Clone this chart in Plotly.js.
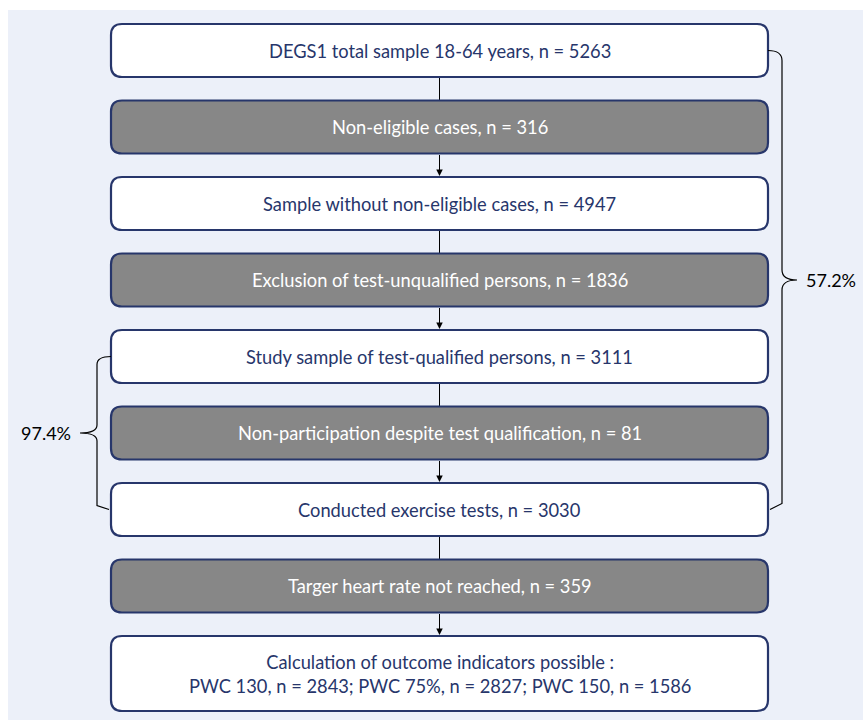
<!DOCTYPE html>
<html>
<head>
<meta charset="utf-8">
<script src="https://cdn.plot.ly/plotly-3.0.1.min.js"></script>
<style>html,body{margin:0;padding:0;background:#fff;}#chart{width:863px;height:720px;}</style>
</head>
<body>
<div id="chart"></div>
<script>
// ---- data ----
const stepTexts = [
  'DEGS1 total sample 18-64 years',
  'Non-eligible cases',
  'Sample without non-eligible cases',
  'Exclusion of test-unqualified persons',
  'Study sample of test-qualified persons',
  'Non-participation despite test qualification',
  'Conducted exercise tests',
  'Targer heart rate not reached',
  'Calculation of outcome indicators possible :'
];
const stepN = [5263, 316, 4947, 1836, 3111, 81, 3030, 359, null];
const stepKind = ['kept', 'removed', 'kept', 'removed', 'kept', 'removed', 'kept', 'removed', 'kept'];
const outcomeLabels = ['PWC 130', 'PWC 75%', 'PWC 150'];
const outcomeN = [2843, 2827, 1586];
const bracketLabels = ['57.2%', '97.4%'];
const bracketFrom = [0, 4];
const bracketTo = [6, 6];
const bracketSide = ['right', 'left'];

// ---- layout / style ----
const W = 863, H = 720;
const navy = '#27366b', grey = '#878787', bg = '#ecf0f9';
const boxX0 = 111, boxX1 = 768, midX = (boxX0 + boxX1) / 2;
const top0 = 24, pitch = 76.5, hSingle = 53, hDouble = 75, rad = 11;
const font = 'Lato, "Open Sans", sans-serif';

const tops = stepTexts.map((_, i) => top0 + i * pitch);
const heights = stepTexts.map((_, i) => (i === stepTexts.length - 1 ? hDouble : hSingle));
const mids = tops.map((t, i) => t + heights[i] / 2);

function roundRect(x0, y0, x1, y1, r) {
  return `M${x0 + r},${y0} L${x1 - r},${y0} Q${x1},${y0} ${x1},${y0 + r} L${x1},${y1 - r} Q${x1},${y1} ${x1 - r},${y1} L${x0 + r},${y1} Q${x0},${y1} ${x0},${y1 - r} L${x0},${y0 + r} Q${x0},${y0} ${x0 + r},${y0} Z`;
}

const shapes = [];
const annotations = [];

// background panel
shapes.push({type: 'rect', xref: 'x', yref: 'y', x0: 8, x1: W, y0: 10, y1: H, fillcolor: bg, line: {width: 0}, layer: 'below'});

// connectors
for (let i = 0; i < stepTexts.length - 1; i++) {
  const y0 = tops[i] + heights[i], y1 = tops[i + 1];
  if (stepKind[i + 1] === 'kept') {
    annotations.push({x: midX, y: y1 - 1, ax: midX, ay: y0, xref: 'x', yref: 'y', axref: 'x', ayref: 'y',
      text: '', showarrow: true, arrowhead: 2, arrowsize: 1.3, arrowwidth: 1, arrowcolor: '#000'});
  } else {
    shapes.push({type: 'line', xref: 'x', yref: 'y', x0: midX, x1: midX, y0: y0, y1: y1, line: {color: '#000', width: 1}});
  }
}

// boxes
stepTexts.forEach((t, i) => {
  const kept = stepKind[i] === 'kept';
  shapes.push({type: 'path', xref: 'x', yref: 'y', path: roundRect(boxX0, tops[i], boxX1, tops[i] + heights[i], rad),
    fillcolor: kept ? '#ffffff' : grey, line: {color: navy, width: 2.2}});
  let txt;
  if (stepN[i] !== null) {
    txt = `${t}, n = ${stepN[i]}`;
  } else {
    txt = t + '<br>' + outcomeLabels.map((l, k) => `${l}, n = ${outcomeN[k]}`).join('; ');
  }
  annotations.push({x: midX, y: mids[i], xref: 'x', yref: 'y', text: txt, showarrow: false,
    font: {family: font, size: 18.3, color: kept ? navy : '#ffffff'}, align: 'center', xanchor: 'center', yanchor: 'middle'});
});

// brackets
bracketLabels.forEach((lab, b) => {
  const yA = mids[bracketFrom[b]], yB = mids[bracketTo[b]];
  const ym = (yA + yB) / 2;
  if (bracketSide[b] === 'right') {
    const e = boxX1, v = 782, tip = 797;
    const p = `M${e},${yA} Q${v},${yA} ${v},${yA + 10} L${v},${ym - 10} Q${v},${ym} ${tip},${ym} Q${v},${ym} ${v},${ym + 10} L${v},${yB - 6} L${e + 2},${yB}`;
    shapes.push({type: 'path', xref: 'x', yref: 'y', path: p, line: {color: '#000', width: 1.2}});
    annotations.push({x: 804, y: ym, xref: 'x', yref: 'y', text: lab, showarrow: false, xanchor: 'left', yanchor: 'middle',
      font: {family: font, size: 18, color: '#000'}});
  } else {
    const e = boxX0, v = 97, tip = 80;
    const p = `M${e},${yA} Q${v},${yA} ${v},${yA + 8} L${v},${ym - 8} Q${v},${ym} ${tip},${ym} Q${v},${ym} ${v},${ym + 8} L${v},${yB - 4} L${e - 2},${yB}`;
    shapes.push({type: 'path', xref: 'x', yref: 'y', path: p, line: {color: '#000', width: 1.2}});
    annotations.push({x: 73, y: ym, xref: 'x', yref: 'y', text: lab, showarrow: false, xanchor: 'right', yanchor: 'middle',
      font: {family: font, size: 18, color: '#000'}});
  }
});

const layout = {
  width: W, height: H,
  margin: {l: 0, r: 0, t: 0, b: 0},
  paper_bgcolor: '#ffffff', plot_bgcolor: '#ffffff',
  xaxis: {range: [0, W], visible: false, fixedrange: true},
  yaxis: {range: [H, 0], visible: false, fixedrange: true},
  showlegend: false,
  shapes: shapes,
  annotations: annotations
};

Plotly.newPlot('chart', [], layout, {displayModeBar: false, staticPlot: true});
</script>
</body>
</html>
